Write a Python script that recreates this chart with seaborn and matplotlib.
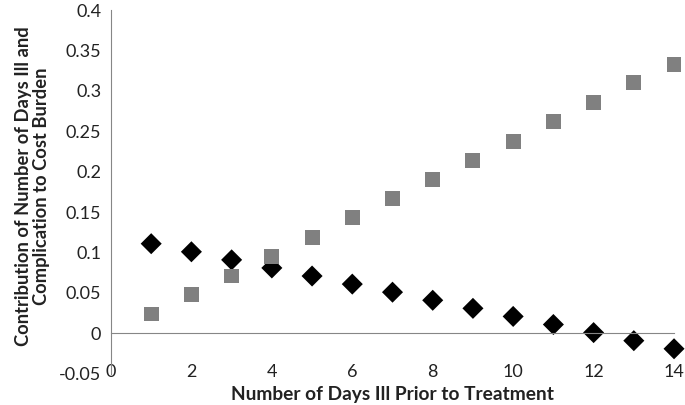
import numpy as np
import pandas as pd
import matplotlib
matplotlib.use("Agg")
import matplotlib.pyplot as plt
import seaborn as sns

days = [1, 2, 3, 4, 5, 6, 7, 8, 9, 10, 11, 12, 13, 14]
days_ill = [0.111, 0.101, 0.091, 0.081, 0.071, 0.061, 0.051, 0.041, 0.031,
            0.021, 0.011, 0.001, -0.009, -0.019]
complication = [0.024, 0.048, 0.071, 0.095, 0.119, 0.143, 0.167, 0.190, 0.214,
                0.238, 0.262, 0.286, 0.310, 0.333]
x_ticks = [0, 2, 4, 6, 8, 10, 12, 14]
y_ticks = [-0.05, 0, 0.05, 0.1, 0.15, 0.2, 0.25, 0.3, 0.35, 0.4]
y_tick_labels = ["-0.05", "0", "0.05", "0.1", "0.15", "0.2", "0.25", "0.3", "0.35", "0.4"]

df = pd.DataFrame({
    "day": days * 2,
    "value": days_ill + complication,
    "series": ["Days ill"] * len(days) + ["Complication"] * len(days),
})

sns.set_style("white")
plt.rcParams["font.family"] = ["Lato", "DejaVu Sans"]

fig = plt.figure(figsize=(6.85, 4.05), dpi=100)
ax = fig.add_axes([0.162, 0.077, 0.822, 0.898])

sns.scatterplot(data=df, x="day", y="value", hue="series", style="series",
                markers={"Days ill": "D", "Complication": "s"},
                palette={"Days ill": "black", "Complication": "#808080"},
                s=115, edgecolor="none", legend=False, ax=ax, clip_on=False)

ax.set_xlim(0, 14)
ax.set_ylim(-0.05, 0.4)
ax.set_xticks(x_ticks)
ax.set_yticks(y_ticks)
ax.set_yticklabels(y_tick_labels)

gray = "#868686"
for side in ["top", "right"]:
    ax.spines[side].set_visible(False)
ax.spines["left"].set_color(gray)
ax.spines["bottom"].set_color(gray)
ax.spines["bottom"].set_position(("data", 0))

ax.tick_params(axis="y", direction="out", length=5, color=gray, labelsize=13,
               labelcolor="#222222", pad=2)
ax.tick_params(axis="x", direction="out", length=5, color=gray, labelsize=13,
               labelcolor="#222222", pad=17)

ax.set_xlabel("Number of Days Ill Prior to Treatment", fontsize=13.8,
              fontweight="bold", color="#222222", labelpad=0)
ax.xaxis.set_label_coords(0.5, -0.033)
ax.xaxis.label.set_verticalalignment("top")
ax.set_ylabel("Contribution of Number of Days Ill and\nComplication to Cost Burden",
              fontsize=13.2, fontweight="bold", color="#222222",
              linespacing=1.05)
ax.yaxis.set_label_coords(-0.108, 0.515)

fig.savefig("out.png", dpi=100)
